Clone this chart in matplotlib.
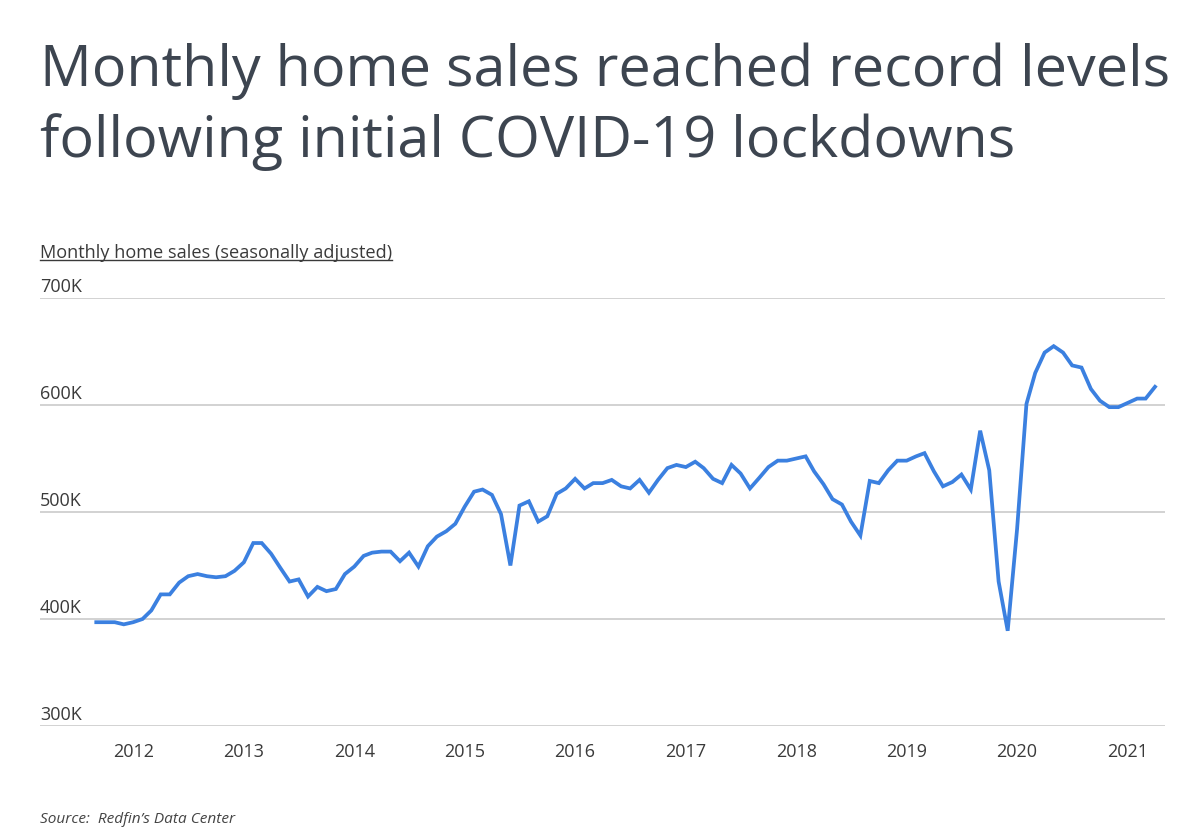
import datetime as dt
import matplotlib
matplotlib.use("Agg")
import matplotlib.pyplot as plt
import matplotlib.dates as mdates
import pandas as pd
from matplotlib.lines import Line2D

# Monthly home sales, seasonally adjusted (thousands), Sep 2011 - Apr 2021
start_month = "2011-09-01"
sales_k = [
    397, 397, 397, 395, 397, 400, 408, 423, 423, 434,
    440, 442, 440, 439, 440, 445, 453, 471, 471, 461,
    448, 435, 437, 421, 430, 426, 428, 442, 449, 459,
    462, 463, 463, 454, 462, 449, 468, 477, 482, 489,
    505, 519, 521, 516, 498, 450, 506, 510, 491, 496,
    517, 522, 531, 522, 527, 527, 530, 524, 522, 530,
    518, 530, 541, 544, 542, 547, 541, 531, 527, 544,
    536, 522, 532, 542, 548, 548, 550, 552, 538, 526,
    512, 507, 491, 478, 529, 527, 539, 548, 548, 552,
    555, 538, 524, 528, 535, 521, 576, 539, 435, 389,
    484, 601, 630, 649, 655, 649, 637, 635, 615, 604,
    598, 598, 602, 606, 606, 617,
]
y_ticks = [300, 400, 500, 600, 700]
y_tick_labels = ["300K", "400K", "500K", "600K", "700K"]
year_ticks = list(range(2012, 2022))
title_lines = ["Monthly home sales reached record levels",
               "following initial COVID-19 lockdowns"]

TEXT = "#3d4550"
LABEL = "#3a3a3a"
LINE = "#3b80e0"
GRID = "#d2d2d2"

plt.rcParams["font.family"] = ["Open Sans", "DejaVu Sans"]

months = pd.date_range(start_month, periods=len(sales_k), freq="MS")

W, H = 1200, 838
fig = plt.figure(figsize=(W / 100, H / 100), dpi=100)
fig.patch.set_facecolor("white")


def fy(px):
    # pixel row from top -> figure fraction
    return 1 - px / H


# axes placed in pixel terms of the reference
left, right, top, bottom = 40, 1165, 298, 726
ax = fig.add_axes([left / W, fy(bottom), (right - left) / W, (bottom - top) / H])

ax.plot(months, sales_k, color=LINE, linewidth=2.7, solid_joinstyle="miter", zorder=3)

ax.set_ylim(300, 700)
ax.set_xlim(dt.datetime(2011, 2, 27), dt.datetime(2021, 5, 4))

for v, lab in zip(y_ticks, y_tick_labels):
    ax.axhline(v, color=GRID, linewidth=1.4, zorder=1)
    ax.text(0, v + 5.5, lab, transform=ax.get_yaxis_transform(), ha="left", va="baseline",
            fontsize=13, color=LABEL)

ax.set_yticks([])
ax.set_xticks([dt.datetime(y, 1, 1) for y in year_ticks])
ax.xaxis.set_major_formatter(mdates.DateFormatter("%Y"))
ax.tick_params(axis="x", length=0, pad=12, labelsize=13, labelcolor=LABEL)
for s in ax.spines.values():
    s.set_visible(False)

for line, base in zip(title_lines, [86, 157]):
    fig.text(40 / W, fy(base), line, ha="left", va="baseline", fontsize=41.4, color=TEXT)

sub = fig.text(40 / W, fy(258), "Monthly home sales (seasonally adjusted)",
               ha="left", va="baseline", fontsize=13.1, color=LABEL)

fig.text(40 / W, fy(823), "Source:  Redfin\u2019s Data Center", ha="left", va="baseline",
         fontsize=11.1, style="italic", color="#444444")

# underline the subtitle
fig.canvas.draw()
bb = sub.get_window_extent(renderer=fig.canvas.get_renderer())
fig.add_artist(Line2D([bb.x0 / W, bb.x1 / W], [fy(260.5), fy(260.5)], transform=fig.transFigure,
                      color=LABEL, linewidth=1.0))

fig.savefig("out.png", dpi=100, facecolor="white")
